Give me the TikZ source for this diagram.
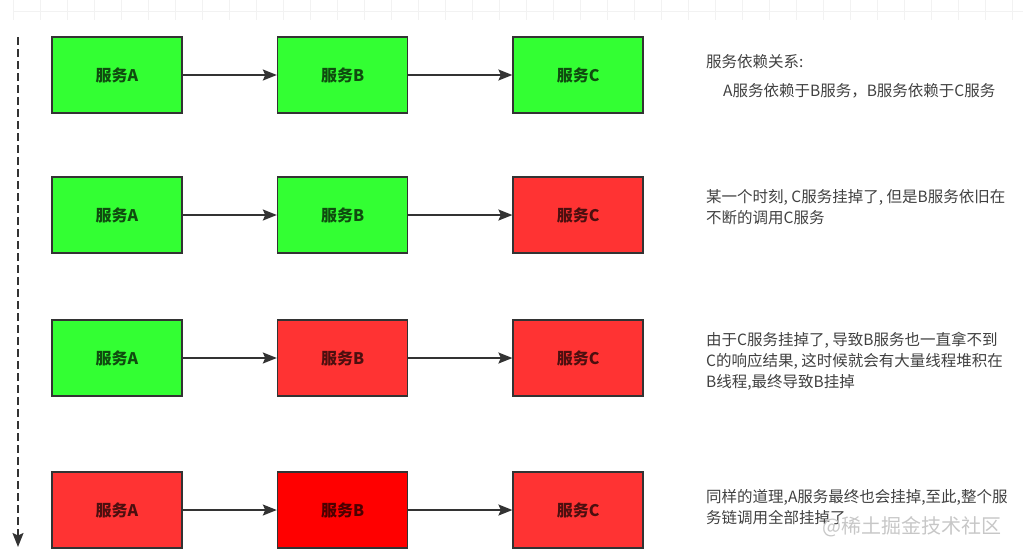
\documentclass[tikz,border=0pt]{standalone}
\usepackage{fontspec}
\setmainfont{Noto Sans CJK SC}
\usetikzlibrary{arrows.meta,positioning}
\definecolor{okgreen}{HTML}{33FF33}
\definecolor{downred}{HTML}{FF3333}
\definecolor{deadred}{HTML}{FF0000}
\definecolor{edgegray}{HTML}{333333}
\begin{document}
\begin{tikzpicture}[
  x=1pt,y=-1pt,
  svc/.style={draw=edgegray,line width=1.6pt,minimum width=130pt,minimum height=76pt,inner sep=0pt,
    font=\fontsize{16}{18}\selectfont\bfseries,text=black,text opacity=0.7},
  up/.style={svc,fill=okgreen},
  down/.style={svc,fill=downred},
  dead/.style={svc,fill=deadred},
  call/.style={-{Stealth[length=14pt,width=11pt,inset=2.5pt]},line width=1.8pt,draw=edgegray},
  note/.style={anchor=west,align=left,inner sep=0pt,text=black!75,font=\fontsize{15.5}{21}\selectfont}
]
\useasboundingbox (0,0) rectangle (1023,557);
\foreach \gx in {13,40,...,1020} \draw[black!5,line width=0.8pt] (\gx,0) -- (\gx,20);
\draw[black!5,line width=0.8pt] (13,11) -- (1023,11);
\node[up] (a1) at (117,75) {服务A};
\node[up,right=94pt of a1] (b1) {服务B};
\node[up,right=104pt of b1] (c1) {服务C};
\node[up] (a2) at (117,215) {服务A};
\node[up,right=94pt of a2] (b2) {服务B};
\node[down,right=104pt of b2] (c2) {服务C};
\node[up] (a3) at (117,358) {服务A};
\node[down,right=94pt of a3] (b3) {服务B};
\node[down,right=104pt of b3] (c3) {服务C};
\node[down] (a4) at (117,510) {服务A};
\node[dead,right=94pt of a4] (b4) {服务B};
\node[down,right=104pt of b4] (c4) {服务C};
\foreach \r in {1,...,4} {
  \draw[call] (a\r) -- (b\r);
  \draw[call] (b\r) -- (c\r);
}
\coordinate (start) at (18,37);
\coordinate (stop) at (18,547);
\draw[call,dash pattern=on 8pt off 4pt] (start) -- (stop);
\node[note] (t1) at (706,62) {服务依赖关系:};
\node[note] (t1b) at (723,91) {A服务依赖于B服务，B服务依赖于C服务};
\node[note] (t2) at (706,207.5) {某一个时刻, C服务挂掉了, 但是B服务依旧在\\不断的调用C服务};
\node[note] (t3) at (706,361) {由于C服务挂掉了, 导致B服务也一直拿不到\\C的响应结果, 这时候就会有大量线程堆积在\\B线程,最终导致B挂掉};
\node[note] (t4) at (706,507.5) {同样的道理,A服务最终也会挂掉,至此,整个服\\务链调用全部挂掉了};
\node[anchor=west,inner sep=0pt,text=black!22,font=\fontsize{20}{21}\selectfont] (mark) at (822,527) {@稀土掘金技术社区};
\end{tikzpicture}
\end{document}
